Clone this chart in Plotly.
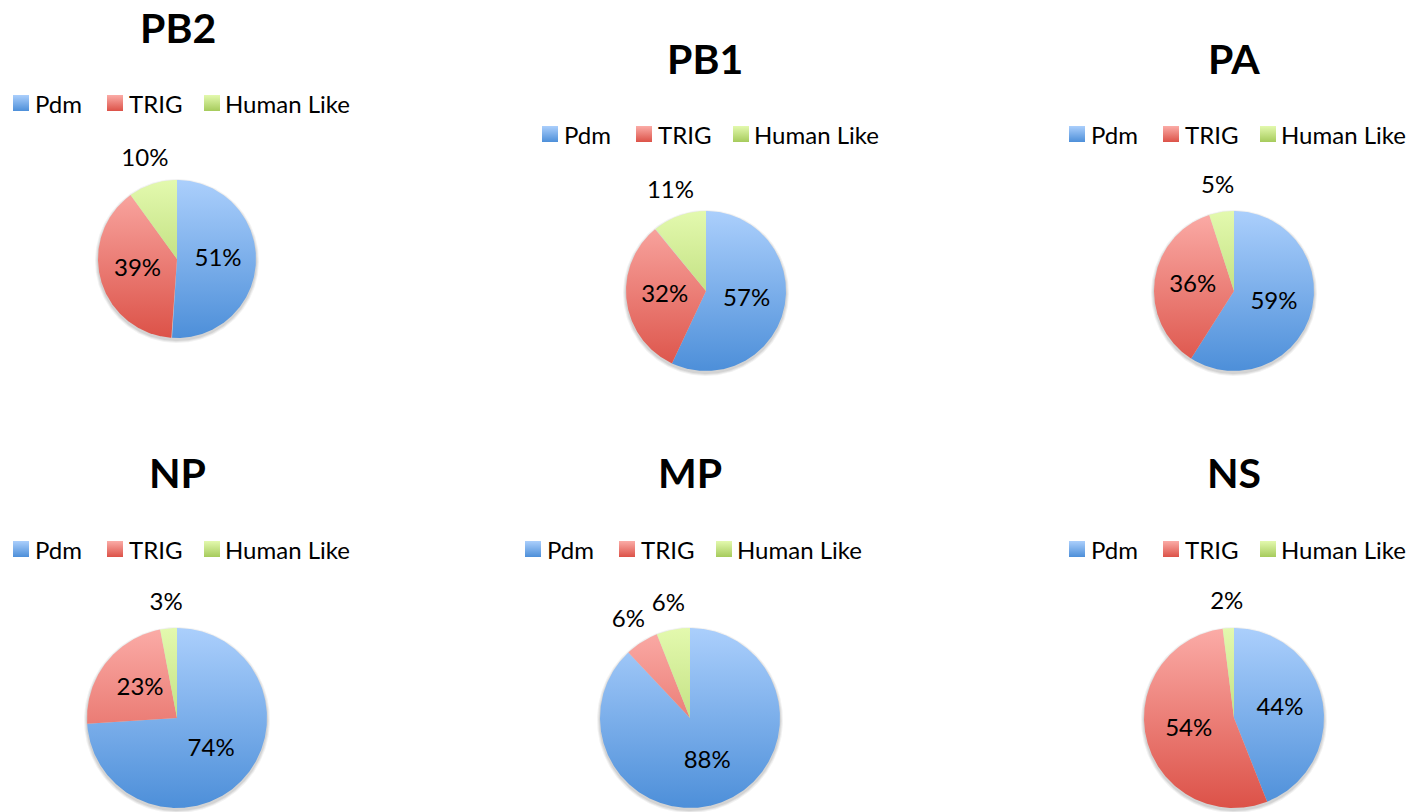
import numpy as np
import plotly.graph_objects as go

# Share of each gene segment by lineage (%)
SEGMENTS = ["PB2", "PB1", "PA", "NP", "MP", "NS"]
CATEGORIES = ["Pdm", "TRIG", "Human Like"]
PDM = [51, 57, 59, 74, 88, 44]
TRIG = [39, 32, 36, 23, 6, 54]
HUMAN_LIKE = [10, 11, 5, 3, 6, 2]

# Panel geometry in page pixels: pie centre/radius, title and legend anchors
PANELS = [
    dict(cx=177, cy=259, r=79, title_x=178, title_y=27, leg_x=13, leg_y=103),
    dict(cx=706, cy=291, r=80, title_x=705, title_y=58, leg_x=542, leg_y=134),
    dict(cx=1234, cy=291, r=80, title_x=1234, title_y=58, leg_x=1069, leg_y=134),
    dict(cx=177, cy=718, r=90, title_x=177, title_y=472, leg_x=13, leg_y=549),
    dict(cx=690, cy=718, r=90, title_x=690, title_y=472, leg_x=525, leg_y=549),
    dict(cx=1234, cy=718, r=90, title_x=1234, title_y=472, leg_x=1069, leg_y=549),
]

# (light top, dark bottom) gradient stops per category
GRADIENTS = {
    "Pdm": ("#abcffc", "#4d8fd9"),
    "TRIG": ("#fbaca7", "#dc5248"),
    "Human Like": ("#e3f9ae", "#a6cb5c"),
}
LEGEND_SQUARE_DX = [0, 94, 191]
LEGEND_TEXT_DX = [20, 114, 210]

FONT = "Lato"
TEXT_SIZE = 24
TITLE_SIZE = 41
W, H = 1422, 812

fig = go.Figure()
annotations = []


def wedge(cx, cy, r, t0, t1):
    n = max(int(abs(t1 - t0) * 2), 4)
    t = np.radians(np.linspace(t0, t1, n))
    xs = np.concatenate([[cx], cx + r * np.sin(t), [cx]])
    ys = np.concatenate([[cy], cy - r * np.cos(t), [cy]])
    return xs, ys


for i, seg in enumerate(SEGMENTS):
    p = PANELS[i]
    cx, cy, r = p["cx"], p["cy"], p["r"]
    values = [PDM[i], TRIG[i], HUMAN_LIKE[i]]
    total = float(sum(values))

    # soft drop shadow beneath the pie
    for k, alpha in [(3, 0.05), (2, 0.06), (1, 0.07)]:
        t = np.radians(np.linspace(0, 360, 361))
        fig.add_trace(go.Scatter(
            x=cx + (r + k) * np.sin(t), y=cy + 2 + (r + k) * np.cos(t),
            mode="lines", fill="toself", line=dict(width=0),
            fillcolor=f"rgba(0,0,0,{alpha})", hoverinfo="skip"))

    start = 0.0
    lx, ly, lt = [], [], []
    for cat, v in zip(CATEGORIES, values):
        span = 360.0 * v / total
        xs, ys = wedge(cx, cy, r, start, start + span)
        light, dark = GRADIENTS[cat]
        fig.add_trace(go.Scatter(
            x=xs, y=ys, mode="lines", fill="toself", name=cat,
            line=dict(width=0),
            fillgradient=dict(type="vertical",
                              colorscale=[[0, light], [1, dark]],
                              start=cy - r, stop=cy + r),
            hoverinfo="name"))
        mid = np.radians(start + span / 2)
        dist = r * 0.52 if v >= 15 else r + 25
        lx.append(cx + dist * np.sin(mid))
        ly.append(cy - dist * np.cos(mid))
        lt.append(f"{v}%")
        start += span

    fig.add_trace(go.Scatter(
        x=lx, y=ly, mode="text", text=lt, textposition="middle center",
        textfont=dict(family=FONT, size=TEXT_SIZE, color="#000000"),
        hoverinfo="skip"))

    # title
    annotations.append(dict(
        x=p["title_x"], y=p["title_y"], xref="x", yref="y", text=f"<b>{seg}</b>",
        showarrow=False, xanchor="center", yanchor="middle",
        font=dict(family=FONT, size=TITLE_SIZE, color="#000000")))

    # legend row
    for j, cat in enumerate(CATEGORIES):
        light, dark = GRADIENTS[cat]
        fig.add_trace(go.Scatter(
            x=[p["leg_x"] + LEGEND_SQUARE_DX[j] + 8], y=[p["leg_y"]],
            mode="markers",
            marker=dict(symbol="square", size=16, color=light,
                        gradient=dict(type="vertical", color=dark),
                        line=dict(width=0)),
            hoverinfo="skip"))
        annotations.append(dict(
            x=p["leg_x"] + LEGEND_TEXT_DX[j], y=p["leg_y"], xref="x", yref="y",
            text=cat, showarrow=False, xanchor="left", yanchor="middle",
            font=dict(family=FONT, size=TEXT_SIZE, color="#000000")))

fig.update_layout(
    width=W, height=H,
    margin=dict(l=0, r=0, t=0, b=0),
    paper_bgcolor="white", plot_bgcolor="white",
    showlegend=False,
    xaxis=dict(range=[0, W], visible=False, fixedrange=True),
    yaxis=dict(range=[H, 0], visible=False, fixedrange=True),
    annotations=annotations,
)

fig.write_html("out.html")
